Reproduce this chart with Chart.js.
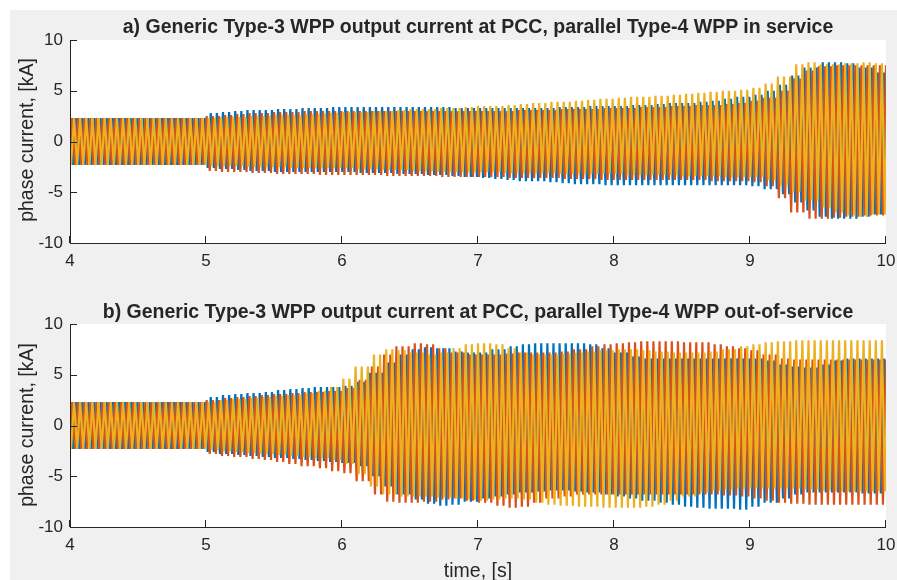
<!DOCTYPE html>
<html>
<head>
<meta charset="utf-8">
<script src="https://cdn.jsdelivr.net/npm/chart.js@4"></script>
<style>
  body { margin: 0; background: #fff; width: 897px; height: 580px; overflow: hidden; position: relative; font-family: "Liberation Sans", Arial, sans-serif; }
  #fig { position: absolute; left: 10px; top: 10px; width: 887px; height: 570px; background: #f0f0f0; }
  canvas { position: absolute; left: 0; }
  .title { position: absolute; left: 78px; width: 800px; text-align: center; font-weight: bold; font-size: 19.5px; line-height: 22px; color: #262626; white-space: nowrap; }
  .ylab { position: absolute; font-size: 19.5px; line-height: 22px; color: #262626; white-space: nowrap; transform: translate(-50%, -50%) rotate(-90deg); }
  .xlab { position: absolute; font-size: 19.5px; line-height: 22px; color: #262626; white-space: nowrap; transform: translate(-50%, -50%); }
</style>
</head>
<body>
<div id="fig"></div>
<canvas id="chartA" width="897" height="290" style="top:0"></canvas>
<canvas id="chartB" width="897" height="290" style="top:290px"></canvas>
<div class="title" style="top:15px">a) Generic Type-3 WPP output current at PCC, parallel Type-4 WPP in service</div>
<div class="title" style="top:300px">b) Generic Type-3 WPP output current at PCC, parallel Type-4 WPP out-of-service</div>
<div class="ylab" style="left:26px; top:140px">phase current, [kA]</div>
<div class="ylab" style="left:26px; top:425px">phase current, [kA]</div>
<div class="xlab" style="left:478px; top:570px">time, [s]</div>
<script>
// envelope sample times, s
const times = [4.0,4.1,4.2,4.3,4.4,4.5,4.6,4.7,4.8,4.9,
  5.0,5.1,5.2,5.3,5.4,5.5,5.6,5.7,5.8,5.9,
  6.0,6.1,6.2,6.3,6.4,6.5,6.6,6.7,6.8,6.9,
  7.0,7.1,7.2,7.3,7.4,7.5,7.6,7.7,7.8,7.9,
  8.0,8.1,8.2,8.3,8.4,8.5,8.6,8.7,8.8,8.9,
  9.0,9.1,9.2,9.3,9.4,9.5,9.6,9.7,9.8,9.9,10.0];

const xTicks = [4, 5, 6, 7, 8, 9, 10];
const yTicks = [-10, -5, 0, 5, 10];
const phaseNames = ['Phase A', 'Phase B', 'Phase C'];

// a) parallel Type-4 WPP in service: peak (hi) and trough (lo) of each phase, kA
const aBlueHi = [2.3,2.3,2.3,2.3,2.3,2.3,2.3,2.3,2.3,2.3,
  2.8,2.9,3.0,3.1,3.1,3.2,3.2,3.3,3.3,3.4,
  3.4,3.4,3.4,3.4,3.4,3.4,3.4,3.4,3.3,3.3,
  3.3,3.3,3.3,3.3,3.3,3.3,3.4,3.4,3.5,3.5,
  3.5,3.6,3.6,3.7,3.8,3.8,3.9,4.0,4.2,4.4,
  4.6,5.0,5.6,6.5,7.3,7.8,7.8,7.7,7.3,6.8,6.5];
const aBlueLo = [-2.3,-2.3,-2.3,-2.3,-2.3,-2.3,-2.3,-2.3,-2.3,-2.3,
  -2.6,-2.7,-2.8,-2.9,-2.9,-3.0,-3.0,-3.0,-3.0,-3.0,
  -3.0,-3.1,-3.1,-3.1,-3.2,-3.2,-3.3,-3.3,-3.4,-3.5,
  -3.6,-3.7,-3.8,-3.9,-3.9,-4.0,-4.1,-4.2,-4.2,-4.3,
  -4.3,-4.3,-4.3,-4.3,-4.3,-4.3,-4.3,-4.3,-4.3,-4.3,
  -4.4,-4.7,-5.2,-6.0,-6.8,-7.4,-7.6,-7.6,-7.4,-7.2,-7.0];
const aRedHi = [2.3,2.3,2.3,2.3,2.3,2.3,2.3,2.3,2.3,2.3,
  2.5,2.6,2.7,2.8,2.8,2.9,2.9,3.0,3.0,3.0,
  3.0,3.0,3.0,3.0,3.0,3.0,3.0,3.0,3.0,3.0,
  3.0,3.0,3.0,3.1,3.1,3.1,3.2,3.2,3.2,3.3,
  3.3,3.3,3.4,3.4,3.5,3.5,3.6,3.6,3.7,3.8,
  4.0,4.3,5.0,6.2,7.0,7.4,7.5,7.5,7.5,7.5,7.5];
const aRedLo = [-2.3,-2.3,-2.3,-2.3,-2.3,-2.3,-2.3,-2.3,-2.3,-2.3,
  -2.9,-3.0,-3.0,-3.1,-3.1,-3.2,-3.2,-3.2,-3.3,-3.3,
  -3.3,-3.3,-3.3,-3.4,-3.4,-3.4,-3.4,-3.5,-3.5,-3.5,
  -3.5,-3.5,-3.6,-3.6,-3.6,-3.6,-3.7,-3.7,-3.7,-3.8,
  -3.8,-3.8,-3.8,-3.8,-3.8,-3.8,-3.8,-3.9,-3.9,-3.9,
  -4.0,-4.4,-5.6,-7.0,-7.6,-7.6,-7.5,-7.4,-7.3,-7.3,-7.5];
const aYellowHi = [2.3,2.3,2.3,2.3,2.3,2.3,2.3,2.3,2.3,2.3,
  2.3,2.4,2.4,2.5,2.5,2.6,2.6,2.7,2.7,2.8,
  2.9,2.9,3.0,3.0,3.1,3.2,3.2,3.3,3.3,3.4,
  3.5,3.5,3.6,3.7,3.8,3.9,3.9,4.0,4.1,4.2,
  4.3,4.4,4.4,4.5,4.6,4.7,4.8,4.9,5.0,5.1,
  5.3,5.7,6.4,7.6,7.8,7.6,7.6,7.7,7.8,7.7,7.6];
const aYellowLo = [-2.3,-2.3,-2.3,-2.3,-2.3,-2.3,-2.3,-2.3,-2.3,-2.3,
  -2.4,-2.4,-2.4,-2.5,-2.5,-2.5,-2.6,-2.6,-2.6,-2.6,
  -2.6,-2.7,-2.7,-2.8,-2.8,-2.9,-2.9,-3.0,-3.0,-3.0,
  -3.0,-3.0,-3.1,-3.1,-3.1,-3.1,-3.2,-3.2,-3.2,-3.2,
  -3.2,-3.3,-3.3,-3.3,-3.3,-3.4,-3.4,-3.4,-3.5,-3.5,
  -3.5,-3.8,-4.3,-5.0,-5.8,-6.5,-7.0,-7.3,-7.4,-7.2,-7.0];

// b) parallel Type-4 WPP out-of-service
const bBlueHi = [2.3,2.3,2.3,2.3,2.3,2.3,2.3,2.3,2.3,2.3,
  2.8,3.0,3.1,3.2,3.3,3.5,3.6,3.7,3.8,3.8,
  3.9,4.3,5.2,6.2,7.0,7.5,7.7,7.6,7.3,7.2,
  7.2,7.5,7.8,8.0,8.1,8.1,8.1,8.1,8.0,7.6,
  7.2,6.8,6.6,6.6,6.6,6.6,6.6,6.6,6.6,6.6,
  6.6,6.4,6.0,5.8,5.7,6.0,6.4,6.6,6.6,6.6,6.6];
const bBlueLo = [-2.3,-2.3,-2.3,-2.3,-2.3,-2.3,-2.3,-2.3,-2.3,-2.3,
  -2.6,-2.8,-2.9,-3.0,-3.1,-3.2,-3.3,-3.4,-3.5,-3.6,
  -3.7,-4.0,-5.0,-6.0,-6.8,-7.3,-7.7,-7.9,-7.8,-7.5,
  -7.2,-7.0,-6.8,-6.6,-6.5,-6.4,-6.4,-6.5,-6.6,-6.8,
  -7.0,-7.2,-7.4,-7.6,-7.8,-8.0,-8.1,-8.2,-8.2,-8.3,
  -8.0,-7.6,-7.2,-6.8,-6.6,-6.6,-6.6,-6.6,-6.7,-6.7,-6.6];
const bRedHi = [2.3,2.3,2.3,2.3,2.3,2.3,2.3,2.3,2.3,2.3,
  2.5,2.7,2.8,2.9,3.0,3.1,3.2,3.3,3.3,3.4,
  3.7,4.5,5.8,7.0,7.8,8.1,8.0,7.6,7.2,7.0,
  7.0,7.0,7.1,7.2,7.2,7.2,7.3,7.5,7.8,8.0,
  8.1,8.2,8.3,8.3,8.3,8.2,8.2,8.0,7.8,7.6,
  7.4,7.0,6.6,6.5,6.5,6.5,6.5,6.5,6.5,6.5,6.5];
const bRedLo = [-2.3,-2.3,-2.3,-2.3,-2.3,-2.3,-2.3,-2.3,-2.3,-2.3,
  -2.8,-3.0,-3.1,-3.3,-3.4,-3.6,-3.8,-4.0,-4.2,-4.5,
  -4.7,-5.5,-6.8,-7.5,-7.6,-7.6,-7.5,-7.3,-7.2,-7.4,
  -7.6,-7.9,-8.1,-8.0,-7.6,-7.2,-7.0,-6.8,-6.8,-6.8,
  -6.8,-6.8,-6.8,-6.8,-6.8,-6.8,-6.8,-6.8,-6.9,-7.0,
  -7.2,-7.4,-7.6,-7.7,-7.8,-7.8,-7.8,-7.8,-7.8,-7.8,-7.8];
const bYellowHi = [2.3,2.3,2.3,2.3,2.3,2.3,2.3,2.3,2.3,2.3,
  2.3,2.5,2.6,2.7,2.8,2.9,3.0,3.2,3.4,3.8,
  4.6,5.8,7.0,7.5,7.4,7.2,7.0,7.2,7.6,8.0,
  8.1,8.0,7.6,7.2,7.0,7.0,7.1,7.2,7.3,7.4,
  7.5,7.5,7.4,7.3,7.2,7.2,7.2,7.3,7.5,7.8,
  8.0,8.2,8.3,8.4,8.4,8.4,8.4,8.4,8.4,8.4,8.3];
const bYellowLo = [-2.3,-2.3,-2.3,-2.3,-2.3,-2.3,-2.3,-2.3,-2.3,-2.3,
  -2.4,-2.5,-2.6,-2.7,-2.8,-2.9,-3.0,-3.1,-3.2,-3.4,
  -3.8,-4.8,-6.0,-6.8,-7.0,-7.0,-7.0,-7.1,-7.2,-7.3,
  -7.4,-7.3,-7.2,-7.3,-7.6,-7.8,-7.9,-8.0,-8.0,-8.1,
  -8.1,-8.1,-8.0,-7.8,-7.4,-7.0,-6.6,-6.4,-6.3,-6.2,
  -6.2,-6.2,-6.2,-6.2,-6.3,-6.4,-6.5,-6.5,-6.5,-6.5,-6.5];

const PERIOD = 0.045; // apparent oscillation period on screen, s
const COLORS = ['#0072BD', '#D95319', '#EDB120'];

// nearest earlier envelope sample for a time
function sampleAt(arr, t) {
  let i = 0;
  while (i < times.length - 1 && times[i + 1] <= t + 1e-9) i++;
  return arr[i];
}

// zigzag between the phase's peak and trough envelopes
function buildPhase(hi, lo, shift) {
  const pts = [];
  for (let n = -1; ; n++) {
    const tp = 4 + shift + n * PERIOD;
    if (tp > 10 + PERIOD) break;
    const tl = tp + PERIOD / 2;
    pts.push({ x: tp, y: sampleAt(hi, Math.max(4, Math.min(10, tp))) });
    pts.push({ x: tl, y: sampleAt(lo, Math.max(4, Math.min(10, tl))) });
  }
  return pts;
}

const inwardTicks = {
  id: 'inwardTicks',
  beforeDraw(chart) {
    const a = chart.chartArea, ctx = chart.ctx;
    ctx.save();
    ctx.fillStyle = '#ffffff';
    ctx.fillRect(a.left, a.top, a.right - a.left, a.bottom - a.top);
    ctx.restore();
  },
  afterDatasetsDraw(chart) {
    const a = chart.chartArea, ctx = chart.ctx;
    const xs = chart.scales.x, ys = chart.scales.y;
    ctx.save();
    ctx.strokeStyle = '#262626';
    ctx.lineWidth = 1;
    ctx.beginPath();
    ctx.moveTo(a.left + 0.5, a.top);
    ctx.lineTo(a.left + 0.5, a.bottom + 0.5);
    ctx.lineTo(a.right, a.bottom + 0.5);
    xTicks.forEach(v => {
      const px = Math.round(xs.getPixelForValue(v)) - 0.5;
      ctx.moveTo(px, a.bottom);
      ctx.lineTo(px, a.bottom - 7);
    });
    yTicks.forEach(v => {
      const py = Math.round(ys.getPixelForValue(v)) + 0.5;
      ctx.moveTo(a.left, py);
      ctx.lineTo(a.left + 7, py);
    });
    ctx.stroke();
    ctx.restore();
  }
};

const tickFont = { size: 17, family: 'Liberation Sans' };

function makeChart(id, padTop, sets) {
  const datasets = sets.map((s, k) => ({
    label: phaseNames[k],
    data: buildPhase(s[0], s[1], k * PERIOD / 3),
    borderColor: COLORS[k],
    borderWidth: 2.2,
    pointRadius: 0,
    tension: 0,
    order: 3 - k
  }));
  return new Chart(document.getElementById(id), {
    type: 'line',
    data: { datasets },
    plugins: [inwardTicks],
    options: {
      responsive: false,
      animation: false,
      events: [],
      layout: { padding: { top: padTop, right: 11, left: 0, bottom: 0 } },
      plugins: { legend: { display: false }, tooltip: { enabled: false } },
      scales: {
        x: {
          type: 'linear', min: 4, max: 10,
          afterFit: s => { s.height = 290 - padTop - 203; s.paddingLeft = 0; s.paddingRight = 0; },
          afterBuildTicks: s => { s.ticks = xTicks.map(v => ({ value: v })); },
          grid: { display: false, drawTicks: false },
          border: { display: false },
          ticks: { color: '#262626', font: tickFont, padding: 8, maxRotation: 0 }
        },
        y: {
          min: -10, max: 10,
          afterFit: s => { s.width = 70; s.paddingTop = 0; s.paddingBottom = 0; },
          afterBuildTicks: s => { s.ticks = yTicks.map(v => ({ value: v })); },
          grid: { display: false, drawTicks: false },
          border: { display: false },
          ticks: { color: '#262626', font: tickFont, padding: 7 }
        }
      }
    }
  });
}

makeChart('chartA', 40, [[aBlueHi, aBlueLo], [aRedHi, aRedLo], [aYellowHi, aYellowLo]]);
makeChart('chartB', 34, [[bBlueHi, bBlueLo], [bRedHi, bRedLo], [bYellowHi, bYellowLo]]);
</script>
</body>
</html>
